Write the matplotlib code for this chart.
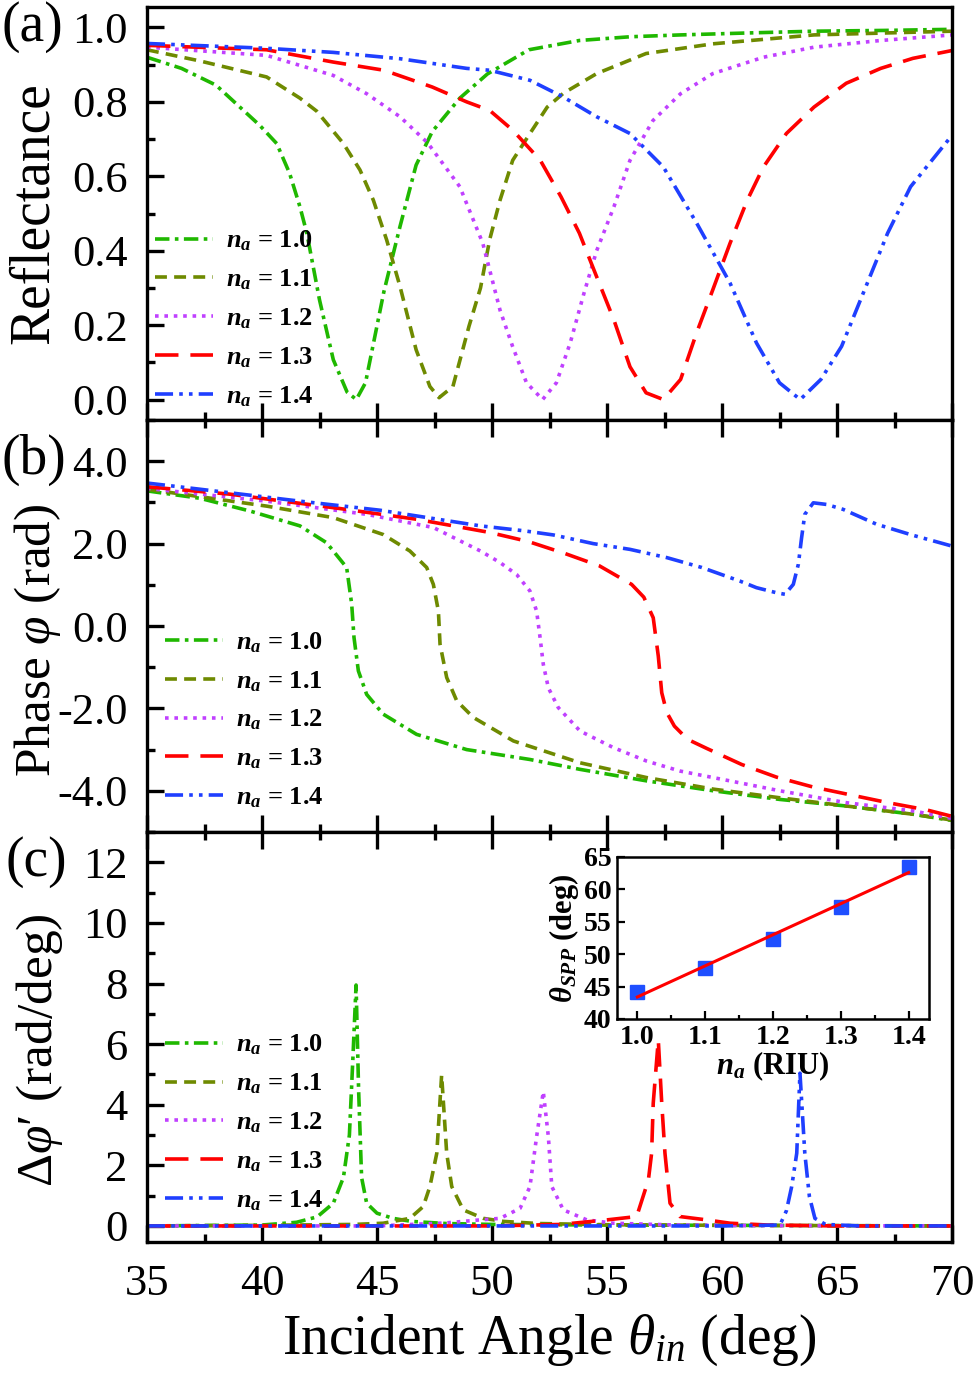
import numpy as np
import matplotlib
matplotlib.use("Agg")
import matplotlib.pyplot as plt
from matplotlib.ticker import MultipleLocator, FormatStrFormatter

plt.rcParams['font.family'] = ['Liberation Serif', 'DejaVu Serif']
plt.rcParams['mathtext.fontset'] = 'custom'
plt.rcParams['mathtext.rm'] = 'Liberation Serif'
plt.rcParams['mathtext.it'] = 'Liberation Serif:italic'
plt.rcParams['mathtext.bf'] = 'Liberation Serif:bold:italic'
plt.rcParams['axes.unicode_minus'] = False

# ---------------- data ----------------
labels = ["1.0", "1.1", "1.2", "1.3", "1.4"]
colors = ["#1fb800", "#6e8a00", "#c040ff", "#ff0000", "#1f3fff"]
dashes = [(4, 1.5, 1, 1.5), (3.3, 2), (1, 1.6), (6.5, 3.3), (5, 1.7, 1, 1.7, 1, 1.7)]

# (a) Reflectance
ra_x10 = [35, 36.5, 38, 39.9, 40.64, 41.2, 41.65, 41.95, 42.5, 43.1, 43.7, 44.1, 44.5, 45.3, 46.0, 46.7, 47.4, 48.6, 49.8, 51.6, 53.8, 56, 58.2, 61, 64, 67, 70]
ra_y10 = [0.92, 0.89, 0.845, 0.737, 0.688, 0.608, 0.518, 0.447, 0.268, 0.107, 0.02, 0.0, 0.045, 0.29, 0.465, 0.63, 0.72, 0.81, 0.875, 0.94, 0.965, 0.975, 0.98, 0.985, 0.99, 0.992, 0.995]
ra_x11 = [35, 37.3, 40.2, 41.65, 42.38, 43.54, 44.26, 44.84, 45.42, 46.0, 46.7, 47.3, 47.7, 48.3, 49.0, 49.5, 49.9, 50.35, 50.9, 51.65, 52.4, 53.1, 54.55, 56.7, 59.6, 64, 67, 70]
ra_y11 = [0.94, 0.91, 0.867, 0.81, 0.775, 0.688, 0.617, 0.536, 0.429, 0.304, 0.134, 0.035, 0.005, 0.035, 0.197, 0.30, 0.43, 0.536, 0.643, 0.715, 0.786, 0.823, 0.876, 0.93, 0.956, 0.98, 0.985, 0.99]
ra_x12 = [35, 40.2, 43.1, 44.55, 46.0, 47.2, 48.6, 49.6, 50.35, 50.9, 51.5, 52.2, 52.8, 53.4, 54.0, 54.55, 55.3, 56.0, 57.0, 58.2, 59.6, 61.8, 64.0, 66.9, 70]
ra_y12 = [0.947, 0.925, 0.871, 0.822, 0.76, 0.69, 0.572, 0.42, 0.24, 0.142, 0.045, 0.0, 0.045, 0.152, 0.286, 0.40, 0.518, 0.643, 0.75, 0.822, 0.876, 0.92, 0.947, 0.965, 0.98]
ra_x13 = [35, 40.2, 43.1, 45.3, 47.4, 48.9, 49.9, 50.9, 52.1, 53.0, 53.8, 54.55, 55.3, 56.0, 56.7, 57.45, 58.2, 58.9, 59.6, 60.35, 61.1, 61.8, 62.8, 64.0, 65.4, 66.9, 68.3, 70]
ra_y13 = [0.952, 0.94, 0.907, 0.885, 0.84, 0.80, 0.777, 0.724, 0.643, 0.545, 0.447, 0.33, 0.214, 0.088, 0.018, 0.0, 0.054, 0.18, 0.295, 0.42, 0.536, 0.625, 0.715, 0.786, 0.85, 0.89, 0.917, 0.938]
ra_x14 = [35, 40.2, 43.1, 46.0, 48.9, 49.9, 51.65, 53.1, 54.55, 56.0, 57.45, 58.9, 60.35, 61.5, 62.5, 63.4, 64.3, 65.2, 66.2, 67.2, 68.2, 70]
ra_y14 = [0.957, 0.944, 0.933, 0.916, 0.89, 0.885, 0.858, 0.813, 0.76, 0.715, 0.625, 0.474, 0.313, 0.152, 0.045, 0.0, 0.054, 0.143, 0.295, 0.447, 0.572, 0.71]

# (b) Phase
pb_x10 = [35, 37.3, 39.48, 41.65, 42.81, 43.68, 43.9, 44.0, 44.19, 44.55, 45.27, 46.72, 48.9, 49.48, 51.65, 53.83, 56.73, 59.63, 62.52, 65.42, 68.32, 70]
pb_y10 = [3.28, 3.1, 2.79, 2.43, 2.02, 1.42, 0.53, -0.28, -1.09, -1.66, -2.14, -2.63, -3.0, -3.05, -3.24, -3.48, -3.76, -4.0, -4.21, -4.37, -4.57, -4.72]
pb_x11 = [35, 40.2, 43.1, 45.27, 46.43, 47.16, 47.45, 47.67, 47.74, 48.03, 48.47, 49.19, 50.2, 50.93, 53.83, 56.73, 59.63, 62.52, 65.42, 68.32, 70]
pb_y11 = [3.32, 2.91, 2.63, 2.22, 1.82, 1.42, 1.01, 0.36, -0.44, -1.25, -1.82, -2.22, -2.55, -2.79, -3.32, -3.68, -3.96, -4.17, -4.37, -4.57, -4.71]
pb_x12 = [35, 40.2, 44.55, 47.45, 49.5, 50.35, 51.07, 51.65, 51.94, 52.09, 52.23, 52.45, 52.88, 53.83, 55.27, 56.73, 58.17, 60.35, 62.52, 65.42, 68.32, 70]
pb_y12 = [3.34, 3.03, 2.71, 2.39, 1.82, 1.54, 1.25, 0.85, 0.36, -0.28, -0.93, -1.5, -1.98, -2.55, -2.95, -3.28, -3.52, -3.76, -4.0, -4.29, -4.49, -4.67]
pb_x13 = [35, 38.6, 43.4, 46.73, 49.9, 51.58, 53.17, 54.67, 56.07, 56.6, 57.01, 57.23, 57.38, 57.6, 57.93, 58.5, 59.33, 60.85, 62.38, 63.97, 65.6, 67.23, 68.87, 70]
pb_y13 = [3.38, 3.2, 2.85, 2.59, 2.27, 2.05, 1.76, 1.46, 1.01, 0.7, 0.2, -0.73, -1.62, -2.1, -2.43, -2.75, -2.97, -3.36, -3.67, -3.91, -4.1, -4.29, -4.46, -4.62]
pb_x14 = [35, 37.3, 41.65, 45.13, 49.5, 51.4, 52.67, 54.4, 56.0, 57.6, 59.12, 60.78, 61.5, 62.42, 62.74, 63.1, 63.32, 63.46, 63.6, 63.97, 64.55, 65.27, 66.72, 68.25, 70]
pb_y14 = [3.47, 3.32, 3.03, 2.81, 2.43, 2.31, 2.21, 2.0, 1.86, 1.66, 1.42, 1.09, 0.93, 0.8, 0.77, 1.01, 1.5, 2.14, 2.71, 2.99, 2.95, 2.83, 2.47, 2.21, 1.94]

# (c) Phase derivative
dc_x10 = [35, 40, 41.5, 42.4, 43.1, 43.54, 43.8, 43.95, 44.09, 44.2, 44.33, 44.55, 45.0, 45.7, 46.5, 48, 50, 55, 60, 70]
dc_y10 = [0.0, 0.03, 0.12, 0.3, 0.75, 1.6, 3.0, 5.5, 7.95, 4.5, 1.6, 0.75, 0.42, 0.25, 0.15, 0.08, 0.05, 0.03, 0.02, 0.0]
dc_x11 = [35, 40, 44, 45.27, 46.43, 47.01, 47.3, 47.6, 47.81, 48.03, 48.25, 48.75, 49.62, 50.5, 52, 55, 60, 70]
dc_y11 = [0.0, 0.02, 0.05, 0.09, 0.25, 0.64, 1.3, 2.4, 4.98, 2.4, 1.3, 0.53, 0.25, 0.15, 0.08, 0.04, 0.02, 0.0]
dc_x12 = [35, 45, 48, 49.48, 50.35, 51.22, 51.65, 51.94, 52.23, 52.45, 52.6, 53.1, 54.12, 55.27, 58, 62, 70]
dc_y12 = [0.0, 0.0, 0.1, 0.2, 0.25, 0.58, 1.3, 2.95, 4.43, 2.95, 1.3, 0.53, 0.2, 0.09, 0.03, 0.01, 0.0]
dc_x13 = [35, 50, 53, 55.0, 56.29, 56.8, 56.94, 57.01, 57.23, 57.38, 57.52, 57.74, 58.17, 59.33, 60.35, 62, 65, 70]
dc_y13 = [0.0, 0.0, 0.05, 0.2, 0.31, 1.52, 2.4, 4.05, 6.14, 4.05, 2.4, 0.75, 0.31, 0.2, 0.09, 0.03, 0.0, 0.0]
dc_x14 = [35, 50, 60, 62.52, 62.8, 63.03, 63.25, 63.39, 63.6, 63.8, 64.04, 64.5, 66, 70]
dc_y14 = [0.0, 0.0, 0.0, 0.03, 0.5, 1.3, 2.4, 5.04, 2.4, 0.97, 0.25, 0.05, 0.0, 0.0]

# inset
na_vals = [1.0, 1.1, 1.2, 1.3, 1.4]
theta_spp = [44.1, 47.9, 52.3, 57.3, 63.4]

ra = [(ra_x10, ra_y10), (ra_x11, ra_y11), (ra_x12, ra_y12), (ra_x13, ra_y13), (ra_x14, ra_y14)]
pb = [(pb_x10, pb_y10), (pb_x11, pb_y11), (pb_x12, pb_y12), (pb_x13, pb_y13), (pb_x14, pb_y14)]
dc = [(dc_x10, dc_y10), (dc_x11, dc_y11), (dc_x12, dc_y12), (dc_x13, dc_y13), (dc_x14, dc_y14)]

# ---------------- figure ----------------
W, H = 979, 1380
fig = plt.figure(figsize=(W / 100, H / 100), dpi=100)

def fx(px):
    return px / W

def fy(py):
    return 1 - py / H

L, R = 147, 952
ax_a = fig.add_axes([fx(L), fy(420), fx(R) - fx(L), fy(7) - fy(420)])
ax_b = fig.add_axes([fx(L), fy(832), fx(R) - fx(L), fy(420) - fy(832)])
ax_c = fig.add_axes([fx(L), fy(1242), fx(R) - fx(L), fy(832) - fy(1242)])

LW = 2.6
TICK_FS = 32
LABEL_FS = 40
LEG_FS = 19

for ax, data in [(ax_a, ra), (ax_b, pb), (ax_c, dc)]:
    for i, (xs, ys) in enumerate(data):
        ax.plot(xs, ys, color=colors[i], lw=LW, dashes=dashes[i],
                label=r"$\mathbf{n}_{\mathbf{a}}$ = " + labels[i])
    ax.set_xlim(35, 70)
    ax.xaxis.set_major_locator(MultipleLocator(5))
    ax.xaxis.set_minor_locator(MultipleLocator(2.5))
    for sp in ax.spines.values():
        sp.set_linewidth(2.4)
    ax.tick_params(which='both', direction='in', width=2.4, labelsize=TICK_FS, pad=14,
                   right=False)
    ax.tick_params(which='major', length=12)
    ax.tick_params(which='minor', length=6)

ax_a.set_ylim(-0.055, 1.055)
ax_a.yaxis.set_major_locator(MultipleLocator(0.2))
ax_a.yaxis.set_minor_locator(MultipleLocator(0.1))
ax_a.yaxis.set_major_formatter(FormatStrFormatter('%.1f'))
ax_a.tick_params(which='both', top=False, labelbottom=False)
ax_a.set_ylabel("Reflectance", fontsize=LABEL_FS)
ax_a.yaxis.set_label_coords(-0.108, 0.5)

ax_b.set_ylim(-5, 5)
ax_b.yaxis.set_major_locator(MultipleLocator(2))
ax_b.yaxis.set_minor_locator(MultipleLocator(1))
ax_b.yaxis.set_major_formatter(FormatStrFormatter('%.1f'))
ax_b.tick_params(which='both', top=True, labelbottom=False)
ax_b.set_ylabel(r"Phase $\varphi$ (rad)", fontsize=37)
ax_b.yaxis.set_label_coords(-0.104, 0.466)

ax_c.set_ylim(-0.53, 13)
ax_c.yaxis.set_major_locator(MultipleLocator(2))
ax_c.yaxis.set_minor_locator(MultipleLocator(1))
ax_c.tick_params(which='both', top=True)
ax_c.tick_params(axis='x', pad=16)
ax_c.set_ylabel("Δ$\\varphi$′ (rad/deg)", fontsize=37)
ax_c.yaxis.set_label_coords(-0.102, 0.468)
ax_c.set_xlabel(r"Incident Angle $\theta_{in}$ (deg)", fontsize=LABEL_FS, labelpad=6)

leg_kw = dict(frameon=False, fontsize=LEG_FS, handlelength=2.2, handletextpad=0.5,
              labelspacing=0.54, borderpad=0, borderaxespad=0, loc='lower left')
ax_a.legend(bbox_to_anchor=(0.01, 0.027), **leg_kw)
ax_b.legend(bbox_to_anchor=(0.022, 0.053), **leg_kw)
ax_c.legend(bbox_to_anchor=(0.022, 0.071), **leg_kw)

for t in [ax_a, ax_b, ax_c]:
    for txt in t.get_legend().get_texts():
        txt.set_fontweight('bold')

fig.text(fx(1), fy(27), "(a)", fontsize=40, ha='left', va='center')
fig.text(fx(1), fy(460), "(b)", fontsize=40, ha='left', va='center')
fig.text(fx(6), fy(862), "(c)", fontsize=40, ha='left', va='center')

# inset
ax_in = fig.add_axes([fx(617), fy(1019), fx(929) - fx(617), fy(857) - fy(1019)])
ax_in.plot(na_vals, theta_spp, 's', color='#1f4fff', ms=10, zorder=3)
coef = np.polyfit(na_vals, theta_spp, 1)
fit_x = np.array([na_vals[0], na_vals[-1]])
ax_in.plot(fit_x, np.polyval(coef, fit_x), color='#ff0000', lw=2.2, zorder=4)
ax_in.set_xlim(0.97, 1.43)
ax_in.set_ylim(40, 65)
ax_in.xaxis.set_major_locator(MultipleLocator(0.1))
ax_in.xaxis.set_minor_locator(MultipleLocator(0.05))
ax_in.yaxis.set_major_locator(MultipleLocator(5))
ax_in.xaxis.set_major_formatter(FormatStrFormatter('%.1f'))
for sp in ax_in.spines.values():
    sp.set_linewidth(1.8)
ax_in.tick_params(which='both', direction='in', width=1.6, labelsize=20, pad=4)
ax_in.tick_params(which='major', length=6)
ax_in.tick_params(which='minor', length=3)
for lab in ax_in.get_xticklabels() + ax_in.get_yticklabels():
    lab.set_fontweight('bold')
ax_in.set_xlabel(r"$\mathbf{n}_{\mathbf{a}}$ (RIU)", fontsize=22, fontweight='bold', labelpad=0)
ax_in.set_ylabel(r"$\mathbf{\theta}_{\mathbf{SPP}}$ (deg)", fontsize=22, fontweight='bold', labelpad=2)

fig.savefig("out.png", dpi=100)
